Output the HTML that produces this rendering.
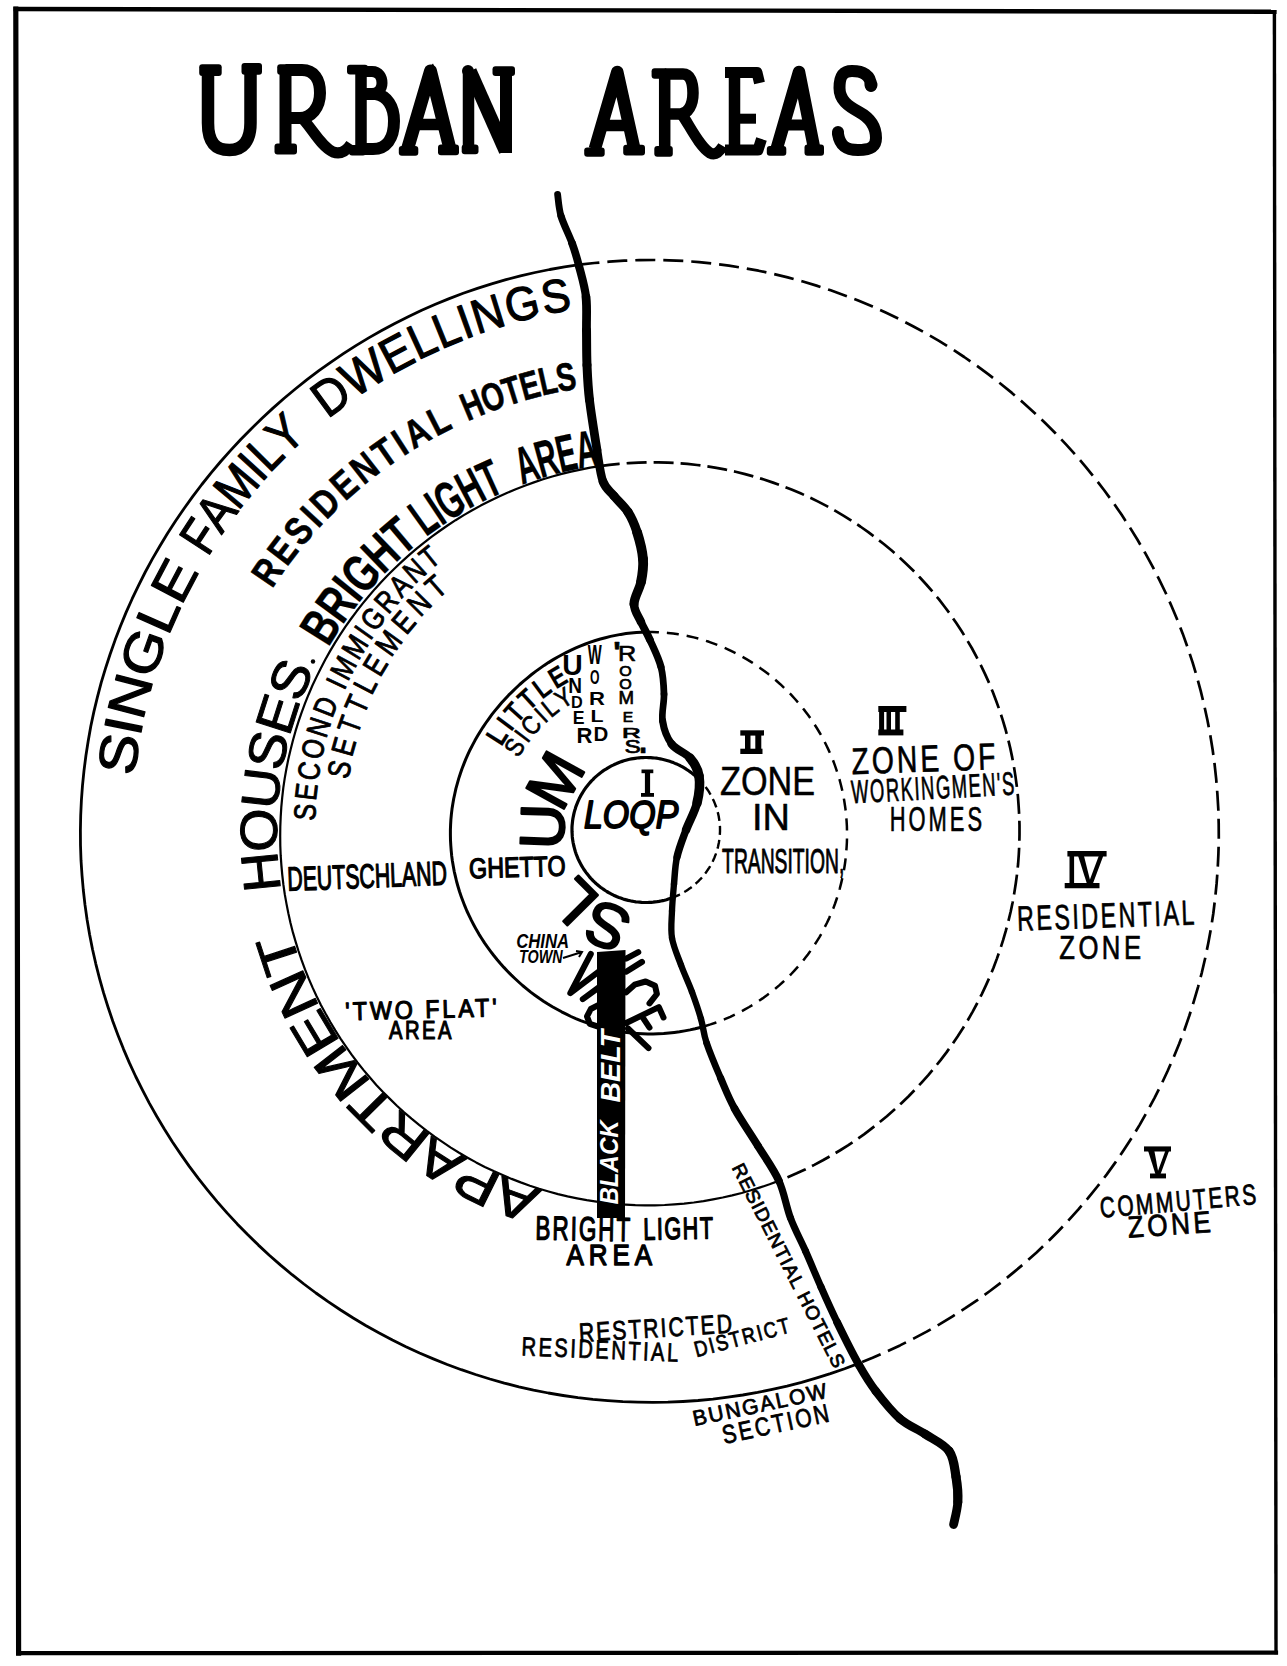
<!DOCTYPE html>
<html><head><meta charset="utf-8"><style>html,body{margin:0;padding:0;background:#fff;}svg{display:block;}</style></head>
<body><svg width="1287" height="1666" viewBox="0 0 1287 1666">
<rect x="0" y="0" width="1287" height="1666" fill="#fff"/>
<path d="M15.8 9 L1274.4 11.8" fill="none" stroke="#000" stroke-width="4.4" stroke-linecap="square"/>
<path d="M1274.4 11.8 L1276 1652.6" fill="none" stroke="#000" stroke-width="3.4" stroke-linecap="square"/>
<path d="M1276 1652.6 L18.6 1653.2" fill="none" stroke="#000" stroke-width="4.2" stroke-linecap="square"/>
<path d="M18.6 1653.2 L15.8 9" fill="none" stroke="#000" stroke-width="5.2" stroke-linecap="square"/>
<path d="M208 70 L208 123 C208 143 216 150 229.5 150 C243 150 250.5 141 250.5 123 L250.5 70" fill="none" stroke="#000" stroke-width="12.5" stroke-linecap="butt" stroke-linejoin="round"/>
<rect x="199.2" y="64.2" width="22.5" height="11.9" rx="3.0" fill="#000"/>
<rect x="241.5" y="63.0" width="20.5" height="11.8" rx="3.0" fill="#000"/>
<path d="M285.5 68 L285.5 150" fill="none" stroke="#000" stroke-width="12.0" stroke-linecap="butt" stroke-linejoin="round"/>
<path d="M285.5 70 L302 70 C314 70 320 79 320 93 C320 108 311 118 300 118 L285.5 118" fill="none" stroke="#000" stroke-width="12.0" stroke-linecap="butt" stroke-linejoin="round"/>
<path d="M300 116 C311 126 320 146 333 152 C341 155 347 150 351 144" fill="none" stroke="#000" stroke-width="11.0" stroke-linecap="butt" stroke-linejoin="round"/>
<rect x="277.2" y="64.2" width="13.8" height="10.6" rx="3.0" fill="#000"/>
<rect x="274.5" y="143.5" width="22.5" height="11.0" rx="3.0" fill="#000"/>
<path d="M361 68 L361 151" fill="none" stroke="#000" stroke-width="11.5" stroke-linecap="butt" stroke-linejoin="round"/>
<path d="M361 71.5 L372 71.5 C379 71.5 382 77 382 83 C382 89 378 93.5 372 93.5 L361 93.5" fill="none" stroke="#000" stroke-width="11.0" stroke-linecap="butt" stroke-linejoin="round"/>
<path d="M361 94 L376 94 C387 96 394 106 394 121 C394 139 386 149 373 149 L361 149" fill="none" stroke="#000" stroke-width="12.0" stroke-linecap="butt" stroke-linejoin="round"/>
<rect x="347.0" y="64.8" width="21.0" height="9.8" rx="3.0" fill="#000"/>
<rect x="349.0" y="145.0" width="17.0" height="10.5" rx="3.0" fill="#000"/>
<path d="M407.5 149 L430.5 71 L450 149" fill="none" stroke="#000" stroke-width="13.0" stroke-linecap="butt" stroke-linejoin="round"/>
<path d="M416 124.5 L445 124.5" fill="none" stroke="#000" stroke-width="11.5" stroke-linecap="butt" stroke-linejoin="round"/>
<rect x="398.8" y="146.0" width="19.5" height="9.7" rx="3.0" fill="#000"/>
<rect x="438.0" y="144.5" width="21.0" height="10.7" rx="3.0" fill="#000"/>
<path d="M424 72 L433 63.5 L437 72 Z" fill="#000"/>
<path d="M468.5 70 L468.5 150" fill="none" stroke="#000" stroke-width="11.5" stroke-linecap="butt" stroke-linejoin="round"/>
<path d="M470 71 L505.5 151" fill="none" stroke="#000" stroke-width="13.5" stroke-linecap="butt" stroke-linejoin="round"/>
<path d="M506 72 L506 153" fill="none" stroke="#000" stroke-width="12.0" stroke-linecap="butt" stroke-linejoin="round"/>
<rect x="461.7" y="144.5" width="16.8" height="9.8" rx="3.0" fill="#000"/>
<rect x="492.5" y="66.2" width="22.5" height="9.8" rx="3.0" fill="#000"/>
<circle cx="468" cy="71" r="6" fill="#000"/>
<path d="M594.8 149 L617.3 72 L634.4 149" fill="none" stroke="#000" stroke-width="12.5" stroke-linecap="butt" stroke-linejoin="round"/>
<path d="M605 125.5 L626 125.5" fill="none" stroke="#000" stroke-width="11.5" stroke-linecap="butt" stroke-linejoin="round"/>
<rect x="584.2" y="147.5" width="20.5" height="9.2" rx="3.0" fill="#000"/>
<rect x="623.2" y="144.8" width="21.8" height="10.6" rx="3.0" fill="#000"/>
<path d="M611 73 L619 66 L623 74 Z" fill="#000"/>
<path d="M664.7 70 L664.7 152" fill="none" stroke="#000" stroke-width="11.5" stroke-linecap="butt" stroke-linejoin="round"/>
<path d="M664.7 74 L683 74 C690 74 693 82 693 93 C693 105 688 114 680 114 L664.7 114" fill="none" stroke="#000" stroke-width="11.5" stroke-linecap="butt" stroke-linejoin="round"/>
<path d="M681 113 C690 126 699 146 710 153 C716 156 720 151 723 146" fill="none" stroke="#000" stroke-width="11.0" stroke-linecap="butt" stroke-linejoin="round"/>
<rect x="651.6" y="68.2" width="15.9" height="10.6" rx="3.0" fill="#000"/>
<rect x="654.3" y="146.1" width="18.5" height="10.6" rx="3.0" fill="#000"/>
<path d="M734.5 70 L734.5 151" fill="none" stroke="#000" stroke-width="11.5" stroke-linecap="butt" stroke-linejoin="round"/>
<path d="M725 72.5 L757 72.5 L759.5 83" fill="none" stroke="#000" stroke-width="11.0" stroke-linecap="butt" stroke-linejoin="round"/>
<path d="M734.5 118.7 L756 118.7" fill="none" stroke="#000" stroke-width="10.0" stroke-linecap="butt" stroke-linejoin="round"/>
<path d="M725 150 L758 150 L761.5 139" fill="none" stroke="#000" stroke-width="11.0" stroke-linecap="butt" stroke-linejoin="round"/>
<path d="M776.6 149 L799 72 L814.3 149" fill="none" stroke="#000" stroke-width="12.5" stroke-linecap="butt" stroke-linejoin="round"/>
<path d="M788 125 L808 125" fill="none" stroke="#000" stroke-width="11.0" stroke-linecap="butt" stroke-linejoin="round"/>
<rect x="766.8" y="146.0" width="19.5" height="9.7" rx="3.0" fill="#000"/>
<rect x="804.5" y="144.5" width="19.5" height="11.2" rx="3.0" fill="#000"/>
<path d="M792 74 L801 66 L804 75 Z" fill="#000"/>
<path d="M871 86 C871 75 863 71 852 71 C841 71 839.5 79 839.5 88 C839.5 100 848 106 859 112 C872 119 876 128 876 138 C876 148 869 150 858 150 C846 150 840 146 838 134" fill="none" stroke="#000" stroke-width="12.0" stroke-linecap="round" stroke-linejoin="round"/>
<circle cx="871" cy="85" r="6.5" fill="#000"/>
<circle cx="838" cy="132" r="6" fill="#000"/>
<path d="M858.7 1363.4 L844.6 1368.7 L830.4 1373.6 L816.0 1378.1 L801.6 1382.3 L787.0 1386.1 L772.3 1389.4 L757.6 1392.4 L742.8 1395.0 L727.9 1397.2 L712.9 1399.1 L698.0 1400.5 L683.0 1401.5 L667.9 1402.2 L652.9 1402.4 L637.9 1402.2 L622.8 1401.7 L607.8 1400.7 L592.9 1399.4 L577.9 1397.7 L563.1 1395.5 L548.3 1393.0 L533.5 1390.1 L518.9 1386.8 L504.3 1383.1 L489.9 1379.0 L475.5 1374.5 L461.3 1369.7 L447.2 1364.5 L433.3 1358.9 L419.5 1353.0 L405.9 1346.7 L392.4 1340.0 L379.2 1333.0 L366.1 1325.7 L353.2 1318.0 L340.6 1310.0 L328.1 1301.6 L315.9 1293.0 L303.9 1284.0 L292.1 1274.7 L280.6 1265.1 L269.3 1255.2 L258.4 1245.1 L247.6 1234.6 L237.2 1223.9 L227.0 1212.9 L217.1 1201.6 L207.6 1190.1 L198.3 1178.4 L189.3 1166.4 L180.7 1154.1 L172.3 1141.7 L164.3 1129.0 L156.7 1116.2 L149.3 1103.1 L142.4 1089.9 L135.7 1076.5 L129.4 1062.9 L123.5 1049.1 L118.0 1035.2 L112.8 1021.2 L108.0 1007.0 L103.5 992.7 L99.5 978.3 L95.8 963.8 L92.5 949.2 L89.6 934.5 L87.1 919.7 L85.0 904.9 L83.3 890.0 L82.0 875.1 L81.0 860.2 L80.5 845.2 L80.4 830.3 L80.7 815.3 L81.4 800.4 L82.5 785.4 L84.0 770.6 L85.9 755.7 L88.2 741.0 L90.8 726.3 L93.9 711.6 L97.4 697.1 L101.2 682.7 L105.5 668.4 L110.1 654.2 L115.1 640.1 L120.4 626.2 L126.1 612.4 L132.2 598.7 L138.6 585.3 L145.3 572.0 L152.4 558.9 L159.9 546.0 L167.6 533.3 L175.7 520.8 L184.1 508.5 L192.8 496.4 L201.8 484.5 L211.1 472.9 L220.7 461.5 L230.6 450.4 L240.7 439.5 L251.1 428.9 L261.8 418.5 L272.7 408.4 L283.9 398.5 L295.3 389.0 L307.0 379.7 L318.9 370.7 L331.0 362.1 L343.4 353.7 L355.9 345.6 L368.7 337.9 L381.7 330.5 L394.8 323.4 L408.2 316.7 L421.7 310.3 L435.4 304.3 L449.2 298.6 L463.2 293.3 L477.4 288.4 L491.6 283.8 L506.0 279.7 L520.5 275.9 L535.1 272.5 L549.8 269.5 L564.6 266.9 L579.5 264.7" fill="none" stroke="#000" stroke-width="2.8" stroke-linecap="butt" stroke-linejoin="round"/>
<path d="M579.5 264.7 L594.4 263.0 L609.3 261.6 L624.2 260.7 L639.2 260.1 L654.2 260.0 L669.2 260.3 L684.2 261.0 L699.1 262.1 L714.0 263.7 L728.9 265.6 L743.7 268.0 L758.5 270.7 L773.1 273.8 L787.7 277.4 L802.1 281.3 L816.5 285.6 L830.7 290.3 L844.8 295.4 L858.8 300.8 L872.6 306.6 L886.2 312.8 L899.7 319.3 L913.0 326.2 L926.1 333.4 L939.0 340.9 L951.7 348.8 L964.2 357.0 L976.5 365.5 L988.5 374.4 L1000.3 383.5 L1011.9 392.9 L1023.3 402.7 L1034.3 412.7 L1045.2 423.0 L1055.7 433.5 L1066.0 444.4 L1076.0 455.4 L1085.7 466.8 L1095.1 478.4 L1104.2 490.2 L1113.0 502.3 L1121.5 514.6 L1129.7 527.1 L1137.5 539.8 L1145.0 552.7 L1152.2 565.8 L1159.0 579.1 L1165.5 592.5 L1171.6 606.2 L1177.4 620.0 L1182.8 633.9 L1187.8 648.0 L1192.5 662.1 L1196.8 676.5 L1200.7 690.9 L1204.2 705.4 L1207.4 720.0 L1210.2 734.7 L1212.6 749.5 L1214.6 764.3 L1216.2 779.2 L1217.4 794.1 L1218.3 809.0 L1218.7 823.9 L1218.8 838.9 L1218.4 853.9 L1217.7 868.8 L1216.6 883.7 L1215.1 898.6 L1213.3 913.5 L1211.0 928.3 L1208.3 943.0 L1205.3 957.7 L1201.9 972.3 L1198.1 986.8 L1193.9 1001.2 L1189.4 1015.5 L1184.5 1029.7 L1179.2 1043.7 L1173.5 1057.6 L1167.5 1071.3 L1161.1 1084.9 L1154.3 1098.3 L1147.2 1111.5 L1139.8 1124.6 L1132.0 1137.4 L1123.8 1150.0 L1115.4 1162.4 L1106.6 1174.6 L1097.4 1186.5 L1088.0 1198.2 L1078.2 1209.7 L1068.2 1220.8 L1057.8 1231.7 L1047.2 1242.4 L1036.3 1252.7 L1025.1 1262.7 L1013.6 1272.4 L1001.9 1281.9 L989.9 1291.0 L977.7 1299.8 L965.3 1308.2 L952.6 1316.3 L939.8 1324.1 L926.7 1331.6 L913.5 1338.6 L900.0 1345.4 L886.4 1351.7 L872.6 1357.8 L858.7 1363.4" fill="none" stroke="#000" stroke-width="2.7" stroke-linecap="butt" stroke-linejoin="round" stroke-dasharray="20 8" stroke-dashoffset="0"/>
<path d="M778.7 1180.9 L769.6 1184.3 L760.3 1187.4 L751.0 1190.3 L741.7 1193.0 L732.2 1195.4 L722.7 1197.5 L713.1 1199.4 L703.5 1201.1 L693.8 1202.5 L684.1 1203.6 L674.4 1204.4 L664.6 1205.0 L654.9 1205.3 L645.1 1205.4 L635.3 1205.2 L625.6 1204.7 L615.8 1204.0 L606.1 1203.0 L596.4 1201.7 L586.7 1200.2 L577.1 1198.4 L567.5 1196.4 L558.0 1194.1 L548.6 1191.5 L539.2 1188.8 L529.9 1185.7 L520.7 1182.4 L511.6 1178.9 L502.6 1175.1 L493.6 1171.1 L484.8 1166.9 L476.1 1162.4 L467.6 1157.7 L459.1 1152.8 L450.8 1147.6 L442.7 1142.2 L434.6 1136.7 L426.8 1130.9 L419.1 1124.9 L411.5 1118.7 L404.1 1112.3 L396.9 1105.7 L389.9 1098.9 L383.0 1092.0 L376.3 1084.9 L369.9 1077.6 L363.6 1070.1 L357.5 1062.5 L351.6 1054.7 L346.0 1046.7 L340.5 1038.6 L335.3 1030.4 L330.3 1022.0 L325.5 1013.5 L320.9 1004.9 L316.6 996.2 L312.5 987.4 L308.6 978.4 L305.0 969.4 L301.6 960.2 L298.5 951.0 L295.6 941.7 L292.9 932.4 L290.5 923.0 L288.4 913.5 L286.5 903.9 L284.8 894.4 L283.4 884.7 L282.3 875.1 L281.4 865.4 L280.7 855.7 L280.3 846.0 L280.2 836.3 L280.3 826.6 L280.7 816.9 L281.3 807.2 L282.2 797.6 L283.3 787.9 L284.7 778.4 L286.4 768.8 L288.3 759.3 L290.5 749.9 L292.9 740.5 L295.5 731.2 L298.4 721.9 L301.5 712.8 L304.9 703.7 L308.5 694.7 L312.3 685.8 L316.4 677.1 L320.7 668.4 L325.2 659.8 L329.9 651.4 L334.8 643.1 L340.0 634.9 L345.3 626.9 L350.9 619.0 L356.6 611.3 L362.6 603.6 L368.7 596.2 L375.0 588.9 L381.5 581.8 L388.2 574.8 L395.1 568.0 L402.1 561.4 L409.3 554.9 L416.6 548.7 L424.1 542.6 L431.8 536.7 L439.6 531.0 L447.5 525.5 L455.6 520.2 L463.8 515.1 L472.2 510.3 L480.7 505.6 L489.2 501.2 L498.0 496.9 L506.8 493.0 L515.7 489.2 L524.7 485.7 L533.9 482.4 L543.1 479.3 L552.3 476.5 L561.7 473.9 L571.1 471.6 L580.6 469.6 L590.2 467.7 L599.8 466.2" fill="none" stroke="#000" stroke-width="2.2" stroke-linecap="butt" stroke-linejoin="round"/>
<path d="M599.8 466.2 L609.4 464.9 L619.1 463.8 L628.8 463.1 L638.6 462.6 L648.4 462.3 L658.1 462.3 L667.9 462.6 L677.6 463.1 L687.4 463.9 L697.1 465.0 L706.8 466.3 L716.4 467.9 L726.0 469.7 L735.6 471.8 L745.1 474.1 L754.5 476.7 L763.9 479.5 L773.1 482.6 L782.3 485.9 L791.5 489.5 L800.5 493.3 L809.4 497.3 L818.2 501.6 L826.9 506.1 L835.4 510.9 L843.8 515.9 L852.1 521.1 L860.3 526.5 L868.3 532.1 L876.1 538.0 L883.8 544.0 L891.4 550.3 L898.7 556.7 L905.9 563.4 L912.9 570.2 L919.7 577.3 L926.3 584.5 L932.7 591.9 L939.0 599.4 L945.0 607.2 L950.8 615.0 L956.3 623.1 L961.7 631.3 L966.8 639.6 L971.8 648.0 L976.4 656.6 L980.9 665.3 L985.1 674.1 L989.1 683.0 L992.8 692.0 L996.3 701.2 L999.6 710.4 L1002.6 719.6 L1005.4 729.0 L1007.9 738.4 L1010.2 747.9 L1012.2 757.4 L1014.0 767.0 L1015.5 776.6 L1016.8 786.3 L1017.9 796.0 L1018.6 805.7 L1019.2 815.4 L1019.5 825.1 L1019.5 834.8 L1019.3 844.6 L1018.8 854.3 L1018.1 864.0 L1017.1 873.7 L1015.8 883.3 L1014.3 892.9 L1012.6 902.5 L1010.6 912.0 L1008.3 921.5 L1005.8 930.9 L1003.1 940.2 L1000.1 949.4 L996.9 958.6 L993.5 967.7 L989.8 976.7 L985.8 985.6 L981.7 994.3 L977.3 1003.0 L972.7 1011.6 L967.9 1020.0 L962.9 1028.3 L957.6 1036.5 L952.1 1044.5 L946.5 1052.4 L940.6 1060.1 L934.5 1067.7 L928.3 1075.2 L921.8 1082.4 L915.2 1089.5 L908.4 1096.5 L901.4 1103.2 L894.2 1109.8 L886.9 1116.2 L879.4 1122.4 L871.8 1128.4 L864.0 1134.3 L856.1 1139.9 L848.0 1145.3 L839.8 1150.5 L831.4 1155.5 L822.9 1160.3 L814.3 1164.9 L805.6 1169.2 L796.7 1173.3 L787.7 1177.2 L778.7 1180.9" fill="none" stroke="#000" stroke-width="2.7" stroke-linecap="butt" stroke-linejoin="round" stroke-dasharray="20 7" stroke-dashoffset="0"/>
<path d="M700.3 1027.5 L695.1 1028.8 L690.0 1029.9 L684.7 1030.9 L679.5 1031.8 L674.3 1032.5 L669.0 1033.1 L663.7 1033.6 L658.4 1033.8 L653.1 1034.0 L647.8 1034.0 L642.5 1033.8 L637.2 1033.5 L631.9 1033.1 L626.6 1032.5 L621.4 1031.7 L616.2 1030.8 L611.0 1029.8 L605.8 1028.6 L600.7 1027.3 L595.6 1025.8 L590.6 1024.2 L585.6 1022.4 L580.7 1020.6 L575.8 1018.6 L571.0 1016.5 L566.3 1014.2 L561.6 1011.8 L557.0 1009.3 L552.4 1006.7 L547.9 1004.0 L543.5 1001.2 L539.2 998.3 L534.9 995.2 L530.7 992.1 L526.7 988.8 L522.6 985.5 L518.7 982.0 L514.9 978.5 L511.1 974.9 L507.5 971.2 L503.9 967.4 L500.4 963.5 L497.0 959.5 L493.8 955.5 L490.6 951.3 L487.5 947.1 L484.5 942.9 L481.7 938.5 L478.9 934.1 L476.3 929.6 L473.8 925.0 L471.4 920.4 L469.1 915.7 L466.9 911.0 L464.9 906.2 L463.0 901.3 L461.2 896.4 L459.5 891.5 L458.0 886.5 L456.6 881.5 L455.4 876.4 L454.2 871.3 L453.3 866.2 L452.4 861.0 L451.7 855.9 L451.2 850.7 L450.8 845.5 L450.5 840.3 L450.4 835.0 L450.4 829.8 L450.6 824.6 L450.9 819.4 L451.4 814.2 L452.0 809.1 L452.8 803.9 L453.7 798.8 L454.8 793.7 L455.9 788.6 L457.3 783.6 L458.7 778.6 L460.3 773.7 L462.0 768.8 L463.9 763.9 L465.8 759.1 L467.9 754.4 L470.1 749.7 L472.5 745.1 L474.9 740.6 L477.5 736.1 L480.1 731.7 L482.9 727.3 L485.8 723.0 L488.8 718.8 L491.8 714.7 L495.0 710.6 L498.3 706.7 L501.6 702.8 L505.1 699.0 L508.6 695.2 L512.3 691.6 L516.0 688.0 L519.7 684.5 L523.6 681.1 L527.6 677.8 L531.6 674.5 L535.7 671.4 L539.9 668.4 L544.1 665.4 L548.4 662.6 L552.8 659.9 L557.3 657.2 L561.9 654.7 L566.5 652.3 L571.1 650.1 L575.9 647.9 L580.7 645.9 L585.5 644.0 L590.4 642.2 L595.4 640.5 L600.4 639.0 L605.4 637.7 L610.5 636.4 L615.6 635.4 L620.8 634.4 L626.0 633.6 L631.2 633.0 L636.4 632.5 L641.7 632.2 L646.9 632.0" fill="none" stroke="#000" stroke-width="3.0" stroke-linecap="butt" stroke-linejoin="round"/>
<path d="M646.9 632.0 L652.2 632.0 L657.4 632.2 L662.7 632.5 L667.9 632.9 L673.2 633.5 L678.4 634.3 L683.6 635.2 L688.7 636.2 L693.8 637.4 L698.9 638.7 L704.0 640.2 L709.0 641.8 L713.9 643.6 L718.8 645.5 L723.6 647.5 L728.4 649.6 L733.1 651.9 L737.8 654.2 L742.4 656.8 L746.9 659.4 L751.4 662.1 L755.7 665.0 L760.0 667.9 L764.3 671.0 L768.4 674.1 L772.5 677.4 L776.4 680.8 L780.3 684.2 L784.1 687.8 L787.9 691.4 L791.5 695.1 L795.0 699.0 L798.5 702.9 L801.8 706.9 L805.0 710.9 L808.1 715.1 L811.1 719.3 L814.0 723.6 L816.8 728.0 L819.5 732.5 L822.1 737.0 L824.5 741.6 L826.8 746.2 L829.0 750.9 L831.1 755.7 L833.1 760.5 L834.9 765.4 L836.6 770.3 L838.2 775.2 L839.7 780.2 L841.0 785.3 L842.2 790.3 L843.3 795.4 L844.2 800.5 L845.0 805.7 L845.7 810.8 L846.2 816.0 L846.6 821.2 L846.9 826.4 L847.0 831.6 L847.0 836.8 L846.9 842.0 L846.6 847.3 L846.2 852.5 L845.7 857.7 L845.1 862.8 L844.3 868.0 L843.4 873.2 L842.3 878.3 L841.1 883.4 L839.8 888.5 L838.4 893.5 L836.8 898.5 L835.1 903.5 L833.3 908.4 L831.3 913.2 L829.2 918.1 L827.0 922.8 L824.6 927.5 L822.2 932.2 L819.6 936.8 L816.8 941.3 L814.0 945.7 L811.0 950.1 L807.9 954.4 L804.7 958.6 L801.4 962.7 L798.0 966.7 L794.4 970.6 L790.8 974.5 L787.0 978.2 L783.2 981.8 L779.2 985.4 L775.2 988.8 L771.1 992.1 L766.9 995.3 L762.6 998.4 L758.2 1001.4 L753.7 1004.3 L749.2 1007.0 L744.5 1009.6 L739.9 1012.2 L735.1 1014.5 L730.3 1016.8 L725.4 1018.9 L720.5 1020.9 L715.5 1022.7 L710.5 1024.4 L705.4 1026.0 L700.3 1027.5" fill="none" stroke="#000" stroke-width="2.5" stroke-linecap="butt" stroke-linejoin="round" stroke-dasharray="12 8" stroke-dashoffset="0"/>
<path d="M673.8 897.2 L672.0 897.9 L670.2 898.5 L668.4 899.1 L666.5 899.7 L664.6 900.2 L662.8 900.6 L660.9 901.0 L659.0 901.4 L657.0 901.7 L655.1 901.9 L653.2 902.2 L651.3 902.3 L649.3 902.4 L647.4 902.5 L645.4 902.5 L643.5 902.5 L641.6 902.4 L639.6 902.2 L637.7 902.0 L635.8 901.8 L633.9 901.5 L632.0 901.2 L630.1 900.8 L628.2 900.4 L626.3 899.9 L624.4 899.4 L622.6 898.8 L620.7 898.1 L618.9 897.5 L617.1 896.8 L615.4 896.0 L613.6 895.2 L611.9 894.3 L610.2 893.4 L608.5 892.5 L606.8 891.5 L605.2 890.5 L603.6 889.4 L602.0 888.3 L600.5 887.2 L599.0 886.0 L597.5 884.7 L596.0 883.5 L594.6 882.2 L593.2 880.8 L591.9 879.5 L590.6 878.1 L589.3 876.6 L588.1 875.1 L586.9 873.6 L585.8 872.1 L584.7 870.5 L583.6 869.0 L582.6 867.3 L581.6 865.7 L580.7 864.0 L579.8 862.3 L578.9 860.6 L578.1 858.9 L577.4 857.1 L576.7 855.4 L576.0 853.6 L575.4 851.8 L574.9 850.0 L574.4 848.1 L573.9 846.3 L573.5 844.4 L573.1 842.6 L572.8 840.7 L572.5 838.8 L572.3 836.9 L572.2 835.0 L572.1 833.1 L572.0 831.2 L572.0 829.3 L572.0 827.4 L572.1 825.5 L572.3 823.6 L572.5 821.7 L572.7 819.9 L573.0 818.0 L573.4 816.1 L573.8 814.2 L574.2 812.4 L574.7 810.6 L575.3 808.7 L575.8 806.9 L576.5 805.1 L577.2 803.4 L577.9 801.6 L578.7 799.9 L579.5 798.1 L580.4 796.4 L581.3 794.8 L582.3 793.1 L583.3 791.5 L584.3 789.9 L585.4 788.3 L586.6 786.8 L587.8 785.3 L589.0 783.8 L590.2 782.4 L591.5 780.9 L592.9 779.6 L594.2 778.2 L595.6 776.9 L597.1 775.6 L598.5 774.4 L600.0 773.2 L601.6 772.0 L603.1 770.9 L604.7 769.8 L606.4 768.8 L608.0 767.8 L609.7 766.8 L611.4 765.9 L613.1 765.1 L614.9 764.2 L616.6 763.5 L618.4 762.7 L620.2 762.0 L622.1 761.4 L623.9 760.8 L625.8 760.3 L627.6 759.8 L629.5 759.3 L631.4 758.9 L633.3 758.6 L635.2 758.3 L637.2 758.0 L639.1 757.8 L641.0 757.7 L643.0 757.6 L644.9 757.5 L646.8 757.5 L648.8 757.6 L650.7 757.6 L652.6 757.8 L654.6 758.0 L656.5 758.2 L658.4 758.5 L660.3 758.9 L662.2 759.3 L664.1 759.7 L666.0 760.2 L667.8 760.7 L669.7 761.3 L671.5 761.9 L673.3 762.6 L675.1 763.4 L676.9 764.1 L678.6 764.9 L680.4 765.8 L682.1 766.7 L683.8 767.7 L685.4 768.6 L687.0 769.7 L688.6 770.8 L690.2 771.9 L691.8 773.0 L693.3 774.2 L694.7 775.4 L696.2 776.7" fill="none" stroke="#000" stroke-width="3.2" stroke-linecap="butt" stroke-linejoin="round"/>
<path d="M696.2 776.7 L697.6 778.0 L699.0 779.4 L700.3 780.8 L701.6 782.2 L702.9 783.7 L704.1 785.2 L705.3 786.7 L706.5 788.2 L707.6 789.8 L708.7 791.4 L709.7 793.1 L710.7 794.7 L711.6 796.4 L712.5 798.1 L713.3 799.9 L714.1 801.6 L714.8 803.4 L715.5 805.2 L716.2 807.0 L716.8 808.8 L717.3 810.7 L717.8 812.5 L718.3 814.4 L718.7 816.3 L719.0 818.2 L719.3 820.0 L719.5 822.0 L719.7 823.9 L719.9 825.8 L720.0 827.7 L720.0 829.6 L720.0 831.5 L719.9 833.4 L719.8 835.4 L719.6 837.3 L719.4 839.2 L719.1 841.1 L718.8 843.0 L718.4 844.8 L718.0 846.7 L717.5 848.6 L717.0 850.4 L716.4 852.3 L715.8 854.1 L715.1 855.9 L714.4 857.7 L713.6 859.4 L712.8 861.2 L711.9 862.9 L711.0 864.6 L710.1 866.3 L709.1 867.9 L708.0 869.5 L706.9 871.1 L705.8 872.7 L704.6 874.2 L703.4 875.7 L702.2 877.2 L700.9 878.6 L699.5 880.0 L698.2 881.4 L696.8 882.7 L695.3 884.0 L693.9 885.3 L692.3 886.5 L690.8 887.7 L689.2 888.8 L687.6 889.9 L686.0 891.0 L684.3 892.0 L682.6 893.0 L680.9 893.9 L679.2 894.8 L677.4 895.6 L675.6 896.4 L673.8 897.2" fill="none" stroke="#000" stroke-width="2.4" stroke-linecap="butt" stroke-linejoin="round" stroke-dasharray="9 5" stroke-dashoffset="0"/>
<path d="M557.6 194.4 C558.2 198.0 558.6 207.9 561.0 216.0" fill="none" stroke="#000" stroke-width="6.8" stroke-linecap="round"/>
<path d="M561.0 216.0 C563.4 224.1 569.0 234.7 572.0 243.0" fill="none" stroke="#000" stroke-width="7.3" stroke-linecap="round"/>
<path d="M572.0 243.0 C575.0 251.3 576.7 257.0 579.0 266.0" fill="none" stroke="#000" stroke-width="7.8" stroke-linecap="round"/>
<path d="M579.0 266.0 C581.3 275.0 584.8 286.3 586.0 297.0" fill="none" stroke="#000" stroke-width="8.2" stroke-linecap="round"/>
<path d="M586.0 297.0 C587.2 307.7 586.3 318.7 586.5 330.0" fill="none" stroke="#000" stroke-width="8.8" stroke-linecap="round"/>
<path d="M586.5 330.0 C586.7 341.3 586.5 353.3 587.0 365.0" fill="none" stroke="#000" stroke-width="9.0" stroke-linecap="round"/>
<path d="M587.0 365.0 C587.5 376.7 587.8 385.8 589.5 400.0" fill="none" stroke="#000" stroke-width="9.0" stroke-linecap="round"/>
<path d="M589.5 400.0 C591.2 414.2 594.8 436.4 597.0 450.0" fill="none" stroke="#000" stroke-width="8.8" stroke-linecap="round"/>
<path d="M597.0 450.0 C599.2 463.6 600.2 473.9 603.0 481.6" fill="none" stroke="#000" stroke-width="8.5" stroke-linecap="round"/>
<path d="M603.0 481.6 C605.8 489.3 609.8 490.9 614.0 496.0" fill="none" stroke="#000" stroke-width="8.8" stroke-linecap="round"/>
<path d="M614.0 496.0 C618.2 501.1 624.2 506.0 628.0 512.0" fill="none" stroke="#000" stroke-width="9.0" stroke-linecap="round"/>
<path d="M628.0 512.0 C631.8 518.0 634.5 524.2 637.0 532.0" fill="none" stroke="#000" stroke-width="9.2" stroke-linecap="round"/>
<path d="M637.0 532.0 C639.5 539.8 642.3 550.7 643.0 559.0" fill="none" stroke="#000" stroke-width="9.8" stroke-linecap="round"/>
<path d="M643.0 559.0 C643.7 567.3 642.5 574.5 641.0 582.0" fill="none" stroke="#000" stroke-width="9.8" stroke-linecap="round"/>
<path d="M641.0 582.0 C639.5 589.5 634.0 597.3 634.0 604.0" fill="none" stroke="#000" stroke-width="9.2" stroke-linecap="round"/>
<path d="M634.0 604.0 C634.0 610.7 638.3 616.0 641.0 622.0" fill="none" stroke="#000" stroke-width="8.5" stroke-linecap="round"/>
<path d="M641.0 622.0 C643.7 628.0 646.7 632.5 650.0 640.0" fill="none" stroke="#000" stroke-width="7.8" stroke-linecap="round"/>
<path d="M650.0 640.0 C653.3 647.5 658.7 658.0 661.0 667.0" fill="none" stroke="#000" stroke-width="7.2" stroke-linecap="round"/>
<path d="M661.0 667.0 C663.3 676.0 663.7 685.0 664.0 694.0" fill="none" stroke="#000" stroke-width="6.8" stroke-linecap="round"/>
<path d="M664.0 694.0 C664.3 703.0 661.3 712.7 662.6 721.0" fill="none" stroke="#000" stroke-width="6.7" stroke-linecap="round"/>
<path d="M662.6 721.0 C663.9 729.3 667.0 737.8 671.6 744.0" fill="none" stroke="#000" stroke-width="7.2" stroke-linecap="round"/>
<path d="M671.6 744.0 C676.2 750.2 685.4 752.7 690.0 758.0" fill="none" stroke="#000" stroke-width="8.2" stroke-linecap="round"/>
<path d="M690.0 758.0 C694.6 763.3 697.8 768.5 699.0 776.0" fill="none" stroke="#000" stroke-width="9.5" stroke-linecap="round"/>
<path d="M699.0 776.0 C700.2 783.5 699.2 794.0 697.0 803.0" fill="none" stroke="#000" stroke-width="9.5" stroke-linecap="round"/>
<path d="M697.0 803.0 C694.8 812.0 689.3 821.0 686.0 830.0" fill="none" stroke="#000" stroke-width="8.5" stroke-linecap="round"/>
<path d="M686.0 830.0 C682.7 839.0 679.0 848.0 677.0 857.0" fill="none" stroke="#000" stroke-width="7.4" stroke-linecap="round"/>
<path d="M677.0 857.0 C675.0 866.0 674.8 875.0 674.0 884.0" fill="none" stroke="#000" stroke-width="6.5" stroke-linecap="round"/>
<path d="M674.0 884.0 C673.2 893.0 672.3 902.0 672.0 911.0" fill="none" stroke="#000" stroke-width="6.3" stroke-linecap="round"/>
<path d="M672.0 911.0 C671.7 920.0 670.5 929.0 672.0 938.0" fill="none" stroke="#000" stroke-width="6.3" stroke-linecap="round"/>
<path d="M672.0 938.0 C673.5 947.0 677.7 956.0 681.0 965.0" fill="none" stroke="#000" stroke-width="6.3" stroke-linecap="round"/>
<path d="M681.0 965.0 C684.3 974.0 688.7 983.0 692.0 992.0" fill="none" stroke="#000" stroke-width="6.3" stroke-linecap="round"/>
<path d="M692.0 992.0 C695.3 1001.0 698.6 1010.5 701.0 1019.0" fill="none" stroke="#000" stroke-width="6.3" stroke-linecap="round"/>
<path d="M701.0 1019.0 C703.4 1027.5 703.3 1033.2 706.6 1043.0" fill="none" stroke="#000" stroke-width="6.4" stroke-linecap="round"/>
<path d="M706.6 1043.0 C709.9 1052.8 715.9 1067.1 720.6 1078.0" fill="none" stroke="#000" stroke-width="6.8" stroke-linecap="round"/>
<path d="M720.6 1078.0 C725.3 1088.9 728.4 1097.3 734.6 1108.6" fill="none" stroke="#000" stroke-width="7.2" stroke-linecap="round"/>
<path d="M734.6 1108.6 C740.8 1119.9 750.6 1133.9 758.0 1146.0" fill="none" stroke="#000" stroke-width="7.8" stroke-linecap="round"/>
<path d="M758.0 1146.0 C765.4 1158.1 773.6 1169.0 779.0 1181.0" fill="none" stroke="#000" stroke-width="7.8" stroke-linecap="round"/>
<path d="M779.0 1181.0 C784.4 1193.0 786.1 1206.3 790.5 1218.0" fill="none" stroke="#000" stroke-width="7.2" stroke-linecap="round"/>
<path d="M790.5 1218.0 C794.9 1229.7 800.4 1239.5 805.5 1251.0" fill="none" stroke="#000" stroke-width="7.0" stroke-linecap="round"/>
<path d="M805.5 1251.0 C810.6 1262.5 815.8 1275.2 821.0 1287.0" fill="none" stroke="#000" stroke-width="7.0" stroke-linecap="round"/>
<path d="M821.0 1287.0 C826.2 1298.8 830.7 1309.0 837.0 1322.0" fill="none" stroke="#000" stroke-width="7.2" stroke-linecap="round"/>
<path d="M837.0 1322.0 C843.3 1335.0 852.5 1353.5 859.0 1365.0" fill="none" stroke="#000" stroke-width="7.8" stroke-linecap="round"/>
<path d="M859.0 1365.0 C865.5 1376.5 868.9 1382.1 875.7 1391.0" fill="none" stroke="#000" stroke-width="8.2" stroke-linecap="round"/>
<path d="M875.7 1391.0 C882.5 1399.9 891.5 1411.3 899.7 1418.5" fill="none" stroke="#000" stroke-width="8.5" stroke-linecap="round"/>
<path d="M899.7 1418.5 C907.9 1425.7 916.8 1428.6 925.0 1434.0" fill="none" stroke="#000" stroke-width="8.5" stroke-linecap="round"/>
<path d="M925.0 1434.0 C933.2 1439.4 943.8 1443.9 949.0 1451.0" fill="none" stroke="#000" stroke-width="8.8" stroke-linecap="round"/>
<path d="M949.0 1451.0 C954.2 1458.1 954.5 1468.2 956.0 1476.7" fill="none" stroke="#000" stroke-width="9.2" stroke-linecap="round"/>
<path d="M956.0 1476.7 C957.5 1485.2 958.2 1494.0 957.8 1502.0" fill="none" stroke="#000" stroke-width="9.2" stroke-linecap="round"/>
<path d="M957.8 1502.0 C957.4 1510.0 954.3 1520.8 953.6 1524.5" fill="none" stroke="#000" stroke-width="8.8" stroke-linecap="round"/>
<path d="M597 952 L625.5 950 L625 1218 L597 1218 Z" fill="#000"/>
<text transform="translate(137.2 756.5) rotate(278.28) scale(1.132 1)" font-family="Liberation Sans" font-weight="normal" font-style="normal" font-size="53.7" text-anchor="middle" fill="#000" stroke="#000" stroke-width="1.20" stroke-linejoin="round">S</text>
<text transform="translate(141.7 729.2) rotate(281.35) scale(1.132 1)" font-family="Liberation Sans" font-weight="normal" font-style="normal" font-size="53.5" text-anchor="middle" fill="#000" stroke="#000" stroke-width="1.20" stroke-linejoin="round">I</text>
<text transform="translate(148.0 700.5) rotate(284.60) scale(1.132 1)" font-family="Liberation Sans" font-weight="normal" font-style="normal" font-size="53.3" text-anchor="middle" fill="#000" stroke="#000" stroke-width="1.20" stroke-linejoin="round">N</text>
<text transform="translate(160.5 658.2) rotate(289.48) scale(1.132 1)" font-family="Liberation Sans" font-weight="normal" font-style="normal" font-size="53.0" text-anchor="middle" fill="#000" stroke="#000" stroke-width="1.20" stroke-linejoin="round">G</text>
<text transform="translate(174.7 621.6) rotate(293.82) scale(1.132 1)" font-family="Liberation Sans" font-weight="normal" font-style="normal" font-size="52.7" text-anchor="middle" fill="#000" stroke="#000" stroke-width="1.20" stroke-linejoin="round">L</text>
<text transform="translate(190.1 589.0) rotate(297.80) scale(1.132 1)" font-family="Liberation Sans" font-weight="normal" font-style="normal" font-size="52.4" text-anchor="middle" fill="#000" stroke="#000" stroke-width="1.20" stroke-linejoin="round">E</text>
<text transform="translate(215.0 546.1) rotate(303.28) scale(0.859 1)" font-family="Liberation Sans" font-weight="normal" font-style="normal" font-size="52.2" text-anchor="middle" fill="#000" stroke="#000" stroke-width="1.20" stroke-linejoin="round">F</text>
<text transform="translate(230.3 523.0) rotate(306.34) scale(0.859 1)" font-family="Liberation Sans" font-weight="normal" font-style="normal" font-size="52.0" text-anchor="middle" fill="#000" stroke="#000" stroke-width="1.20" stroke-linejoin="round">A</text>
<text transform="translate(249.9 497.0) rotate(309.93) scale(0.859 1)" font-family="Liberation Sans" font-weight="normal" font-style="normal" font-size="51.7" text-anchor="middle" fill="#000" stroke="#000" stroke-width="1.20" stroke-linejoin="round">M</text>
<text transform="translate(265.5 478.5) rotate(312.59) scale(0.859 1)" font-family="Liberation Sans" font-weight="normal" font-style="normal" font-size="51.4" text-anchor="middle" fill="#000" stroke="#000" stroke-width="1.20" stroke-linejoin="round">I</text>
<text transform="translate(277.8 465.1) rotate(314.58) scale(0.859 1)" font-family="Liberation Sans" font-weight="normal" font-style="normal" font-size="51.3" text-anchor="middle" fill="#000" stroke="#000" stroke-width="1.20" stroke-linejoin="round">L</text>
<text transform="translate(296.6 446.3) rotate(317.51) scale(0.859 1)" font-family="Liberation Sans" font-weight="normal" font-style="normal" font-size="51.0" text-anchor="middle" fill="#000" stroke="#000" stroke-width="1.20" stroke-linejoin="round">Y</text>
<text transform="translate(341.2 409.1) rotate(323.89) scale(0.920 1)" font-family="Liberation Sans" font-weight="normal" font-style="normal" font-size="50.7" text-anchor="middle" fill="#000" stroke="#000" stroke-width="1.20" stroke-linejoin="round">D</text>
<text transform="translate(372.5 387.1) rotate(328.08) scale(0.920 1)" font-family="Liberation Sans" font-weight="normal" font-style="normal" font-size="50.0" text-anchor="middle" fill="#000" stroke="#000" stroke-width="1.20" stroke-linejoin="round">W</text>
<text transform="translate(404.1 368.1) rotate(332.12) scale(0.920 1)" font-family="Liberation Sans" font-weight="normal" font-style="normal" font-size="49.4" text-anchor="middle" fill="#000" stroke="#000" stroke-width="1.20" stroke-linejoin="round">E</text>
<text transform="translate(429.2 355.1) rotate(335.21) scale(0.920 1)" font-family="Liberation Sans" font-weight="normal" font-style="normal" font-size="49.0" text-anchor="middle" fill="#000" stroke="#000" stroke-width="1.20" stroke-linejoin="round">L</text>
<text transform="translate(452.6 344.5) rotate(338.02) scale(0.920 1)" font-family="Liberation Sans" font-weight="normal" font-style="normal" font-size="48.5" text-anchor="middle" fill="#000" stroke="#000" stroke-width="1.20" stroke-linejoin="round">L</text>
<text transform="translate(470.6 337.2) rotate(340.14) scale(0.920 1)" font-family="Liberation Sans" font-weight="normal" font-style="normal" font-size="48.2" text-anchor="middle" fill="#000" stroke="#000" stroke-width="1.20" stroke-linejoin="round">I</text>
<text transform="translate(492.5 329.4) rotate(342.67) scale(0.920 1)" font-family="Liberation Sans" font-weight="normal" font-style="normal" font-size="47.8" text-anchor="middle" fill="#000" stroke="#000" stroke-width="1.20" stroke-linejoin="round">N</text>
<text transform="translate(525.7 319.5) rotate(346.45) scale(0.920 1)" font-family="Liberation Sans" font-weight="normal" font-style="normal" font-size="47.3" text-anchor="middle" fill="#000" stroke="#000" stroke-width="1.20" stroke-linejoin="round">G</text>
<text transform="translate(558.3 312.1) rotate(350.08) scale(0.920 1)" font-family="Liberation Sans" font-weight="normal" font-style="normal" font-size="46.7" text-anchor="middle" fill="#000" stroke="#000" stroke-width="1.20" stroke-linejoin="round">S</text>
<text transform="translate(278.4 579.3) rotate(304.18) scale(0.820 1)" font-family="Liberation Sans" font-weight="bold" font-style="normal" font-size="39.2" text-anchor="middle" fill="#000" stroke="#000" stroke-width="0.60" stroke-linejoin="round">R</text>
<text transform="translate(293.3 558.7) rotate(307.43) scale(0.820 1)" font-family="Liberation Sans" font-weight="bold" font-style="normal" font-size="39.2" text-anchor="middle" fill="#000" stroke="#000" stroke-width="0.60" stroke-linejoin="round">E</text>
<text transform="translate(308.7 539.6) rotate(310.57) scale(0.820 1)" font-family="Liberation Sans" font-weight="bold" font-style="normal" font-size="39.2" text-anchor="middle" fill="#000" stroke="#000" stroke-width="0.60" stroke-linejoin="round">S</text>
<text transform="translate(321.0 525.8) rotate(312.93) scale(0.820 1)" font-family="Liberation Sans" font-weight="bold" font-style="normal" font-size="39.2" text-anchor="middle" fill="#000" stroke="#000" stroke-width="0.60" stroke-linejoin="round">I</text>
<text transform="translate(334.5 512.0) rotate(315.41) scale(0.820 1)" font-family="Liberation Sans" font-weight="bold" font-style="normal" font-size="39.2" text-anchor="middle" fill="#000" stroke="#000" stroke-width="0.60" stroke-linejoin="round">D</text>
<text transform="translate(353.1 494.7) rotate(318.66) scale(0.820 1)" font-family="Liberation Sans" font-weight="bold" font-style="normal" font-size="39.2" text-anchor="middle" fill="#000" stroke="#000" stroke-width="0.60" stroke-linejoin="round">E</text>
<text transform="translate(372.6 478.4) rotate(321.91) scale(0.820 1)" font-family="Liberation Sans" font-weight="bold" font-style="normal" font-size="39.2" text-anchor="middle" fill="#000" stroke="#000" stroke-width="0.60" stroke-linejoin="round">N</text>
<text transform="translate(392.3 463.8) rotate(325.04) scale(0.820 1)" font-family="Liberation Sans" font-weight="bold" font-style="normal" font-size="39.2" text-anchor="middle" fill="#000" stroke="#000" stroke-width="0.60" stroke-linejoin="round">T</text>
<text transform="translate(406.9 454.0) rotate(327.29) scale(0.820 1)" font-family="Liberation Sans" font-weight="bold" font-style="normal" font-size="39.2" text-anchor="middle" fill="#000" stroke="#000" stroke-width="0.60" stroke-linejoin="round">I</text>
<text transform="translate(423.4 443.9) rotate(329.77) scale(0.820 1)" font-family="Liberation Sans" font-weight="bold" font-style="normal" font-size="39.2" text-anchor="middle" fill="#000" stroke="#000" stroke-width="0.60" stroke-linejoin="round">A</text>
<text transform="translate(444.9 432.2) rotate(332.90) scale(0.820 1)" font-family="Liberation Sans" font-weight="bold" font-style="normal" font-size="39.2" text-anchor="middle" fill="#000" stroke="#000" stroke-width="0.60" stroke-linejoin="round">L</text>
<text transform="translate(477.3 417.2) rotate(337.47) scale(0.742 1)" font-family="Liberation Sans" font-weight="bold" font-style="normal" font-size="39.2" text-anchor="middle" fill="#000" stroke="#000" stroke-width="0.60" stroke-linejoin="round">H</text>
<text transform="translate(497.1 409.5) rotate(340.18) scale(0.742 1)" font-family="Liberation Sans" font-weight="bold" font-style="normal" font-size="39.2" text-anchor="middle" fill="#000" stroke="#000" stroke-width="0.60" stroke-linejoin="round">O</text>
<text transform="translate(515.7 403.3) rotate(342.69) scale(0.742 1)" font-family="Liberation Sans" font-weight="bold" font-style="normal" font-size="39.2" text-anchor="middle" fill="#000" stroke="#000" stroke-width="0.60" stroke-linejoin="round">T</text>
<text transform="translate(533.1 398.3) rotate(345.01) scale(0.742 1)" font-family="Liberation Sans" font-weight="bold" font-style="normal" font-size="39.2" text-anchor="middle" fill="#000" stroke="#000" stroke-width="0.60" stroke-linejoin="round">E</text>
<text transform="translate(550.6 393.9) rotate(347.32) scale(0.742 1)" font-family="Liberation Sans" font-weight="bold" font-style="normal" font-size="39.2" text-anchor="middle" fill="#000" stroke="#000" stroke-width="0.60" stroke-linejoin="round">L</text>
<text transform="translate(568.3 390.3) rotate(349.63) scale(0.742 1)" font-family="Liberation Sans" font-weight="bold" font-style="normal" font-size="39.2" text-anchor="middle" fill="#000" stroke="#000" stroke-width="0.60" stroke-linejoin="round">S</text>
<text transform="translate(521.7 1183.2) rotate(200.12) scale(1.220 1)" font-family="Liberation Sans" font-weight="normal" font-style="normal" font-size="52.3" text-anchor="middle" fill="#000" stroke="#000" stroke-width="1.00" stroke-linejoin="round">A</text>
<text transform="translate(484.4 1167.2) rotate(206.36) scale(1.220 1)" font-family="Liberation Sans" font-weight="normal" font-style="normal" font-size="52.3" text-anchor="middle" fill="#000" stroke="#000" stroke-width="1.00" stroke-linejoin="round">P</text>
<text transform="translate(449.0 1147.2) rotate(212.60) scale(1.220 1)" font-family="Liberation Sans" font-weight="normal" font-style="normal" font-size="52.3" text-anchor="middle" fill="#000" stroke="#000" stroke-width="1.00" stroke-linejoin="round">A</text>
<text transform="translate(414.8 1122.5) rotate(219.10) scale(1.220 1)" font-family="Liberation Sans" font-weight="normal" font-style="normal" font-size="52.3" text-anchor="middle" fill="#000" stroke="#000" stroke-width="1.00" stroke-linejoin="round">R</text>
<text transform="translate(384.7 1095.2) rotate(225.33) scale(1.220 1)" font-family="Liberation Sans" font-weight="normal" font-style="normal" font-size="52.3" text-anchor="middle" fill="#000" stroke="#000" stroke-width="1.00" stroke-linejoin="round">T</text>
<text transform="translate(355.7 1062.2) rotate(232.09) scale(1.220 1)" font-family="Liberation Sans" font-weight="normal" font-style="normal" font-size="52.3" text-anchor="middle" fill="#000" stroke="#000" stroke-width="1.00" stroke-linejoin="round">M</text>
<text transform="translate(329.9 1024.5) rotate(239.10) scale(1.220 1)" font-family="Liberation Sans" font-weight="normal" font-style="normal" font-size="52.3" text-anchor="middle" fill="#000" stroke="#000" stroke-width="1.00" stroke-linejoin="round">E</text>
<text transform="translate(310.3 987.1) rotate(245.60) scale(1.220 1)" font-family="Liberation Sans" font-weight="normal" font-style="normal" font-size="52.3" text-anchor="middle" fill="#000" stroke="#000" stroke-width="1.00" stroke-linejoin="round">N</text>
<text transform="translate(295.6 949.3) rotate(251.84) scale(1.220 1)" font-family="Liberation Sans" font-weight="normal" font-style="normal" font-size="52.3" text-anchor="middle" fill="#000" stroke="#000" stroke-width="1.00" stroke-linejoin="round">T</text>
<text transform="translate(278.8 870.1) rotate(264.30) scale(1.067 1)" font-family="Liberation Sans" font-weight="normal" font-style="normal" font-size="52.3" text-anchor="middle" fill="#000" stroke="#000" stroke-width="1.00" stroke-linejoin="round">H</text>
<text transform="translate(277.0 830.2) rotate(270.43) scale(1.067 1)" font-family="Liberation Sans" font-weight="normal" font-style="normal" font-size="52.3" text-anchor="middle" fill="#000" stroke="#000" stroke-width="1.00" stroke-linejoin="round">O</text>
<text transform="translate(279.4 790.3) rotate(276.57) scale(1.067 1)" font-family="Liberation Sans" font-weight="normal" font-style="normal" font-size="52.3" text-anchor="middle" fill="#000" stroke="#000" stroke-width="1.00" stroke-linejoin="round">U</text>
<text transform="translate(285.5 753.9) rotate(282.25) scale(1.067 1)" font-family="Liberation Sans" font-weight="normal" font-style="normal" font-size="52.3" text-anchor="middle" fill="#000" stroke="#000" stroke-width="1.00" stroke-linejoin="round">S</text>
<text transform="translate(294.7 719.6) rotate(287.70) scale(1.067 1)" font-family="Liberation Sans" font-weight="normal" font-style="normal" font-size="52.3" text-anchor="middle" fill="#000" stroke="#000" stroke-width="1.00" stroke-linejoin="round">E</text>
<text transform="translate(307.1 686.3) rotate(293.16) scale(1.067 1)" font-family="Liberation Sans" font-weight="normal" font-style="normal" font-size="52.3" text-anchor="middle" fill="#000" stroke="#000" stroke-width="1.00" stroke-linejoin="round">S</text>
<circle cx="313" cy="661.5" r="2.2" fill="#000"/>
<text transform="translate(335.6 636.1) rotate(302.06) scale(0.729 1)" font-family="Liberation Sans" font-weight="bold" font-style="normal" font-size="52.3" text-anchor="middle" fill="#000" stroke="#000" stroke-width="0.30" stroke-linejoin="round">B</text>
<text transform="translate(350.3 614.3) rotate(306.12) scale(0.729 1)" font-family="Liberation Sans" font-weight="bold" font-style="normal" font-size="52.3" text-anchor="middle" fill="#000" stroke="#000" stroke-width="0.30" stroke-linejoin="round">R</text>
<text transform="translate(361.4 599.9) rotate(308.93) scale(0.729 1)" font-family="Liberation Sans" font-weight="bold" font-style="normal" font-size="52.3" text-anchor="middle" fill="#000" stroke="#000" stroke-width="0.30" stroke-linejoin="round">I</text>
<text transform="translate(373.8 585.3) rotate(311.89) scale(0.729 1)" font-family="Liberation Sans" font-weight="bold" font-style="normal" font-size="52.3" text-anchor="middle" fill="#000" stroke="#000" stroke-width="0.30" stroke-linejoin="round">G</text>
<text transform="translate(392.8 565.7) rotate(316.10) scale(0.729 1)" font-family="Liberation Sans" font-weight="bold" font-style="normal" font-size="52.3" text-anchor="middle" fill="#000" stroke="#000" stroke-width="0.30" stroke-linejoin="round">H</text>
<text transform="translate(410.8 549.4) rotate(319.85) scale(0.729 1)" font-family="Liberation Sans" font-weight="bold" font-style="normal" font-size="52.3" text-anchor="middle" fill="#000" stroke="#000" stroke-width="0.30" stroke-linejoin="round">T</text>
<text transform="translate(433.7 531.6) rotate(324.33) scale(0.612 1)" font-family="Liberation Sans" font-weight="bold" font-style="normal" font-size="52.3" text-anchor="middle" fill="#000" stroke="#000" stroke-width="0.30" stroke-linejoin="round">L</text>
<text transform="translate(444.9 523.9) rotate(326.43) scale(0.612 1)" font-family="Liberation Sans" font-weight="bold" font-style="normal" font-size="52.3" text-anchor="middle" fill="#000" stroke="#000" stroke-width="0.30" stroke-linejoin="round">I</text>
<text transform="translate(458.5 515.2) rotate(328.92) scale(0.612 1)" font-family="Liberation Sans" font-weight="bold" font-style="normal" font-size="52.3" text-anchor="middle" fill="#000" stroke="#000" stroke-width="0.30" stroke-linejoin="round">G</text>
<text transform="translate(478.5 504.0) rotate(332.46) scale(0.612 1)" font-family="Liberation Sans" font-weight="bold" font-style="normal" font-size="52.3" text-anchor="middle" fill="#000" stroke="#000" stroke-width="0.30" stroke-linejoin="round">H</text>
<text transform="translate(496.8 495.1) rotate(335.61) scale(0.612 1)" font-family="Liberation Sans" font-weight="bold" font-style="normal" font-size="52.3" text-anchor="middle" fill="#000" stroke="#000" stroke-width="0.30" stroke-linejoin="round">T</text>
<text transform="translate(532.0 481.3) rotate(341.45) scale(0.560 1)" font-family="Liberation Sans" font-weight="bold" font-style="normal" font-size="52.3" text-anchor="middle" fill="#000" stroke="#000" stroke-width="0.30" stroke-linejoin="round">A</text>
<text transform="translate(551.3 475.4) rotate(344.57) scale(0.560 1)" font-family="Liberation Sans" font-weight="bold" font-style="normal" font-size="52.3" text-anchor="middle" fill="#000" stroke="#000" stroke-width="0.30" stroke-linejoin="round">R</text>
<text transform="translate(570.1 470.7) rotate(347.56) scale(0.560 1)" font-family="Liberation Sans" font-weight="bold" font-style="normal" font-size="52.3" text-anchor="middle" fill="#000" stroke="#000" stroke-width="0.30" stroke-linejoin="round">E</text>
<text transform="translate(589.1 467.0) rotate(350.56) scale(0.560 1)" font-family="Liberation Sans" font-weight="bold" font-style="normal" font-size="52.3" text-anchor="middle" fill="#000" stroke="#000" stroke-width="0.30" stroke-linejoin="round">A</text>
<text transform="translate(315.4 812.6) rotate(273.49) scale(0.820 1)" font-family="Liberation Sans" font-weight="normal" font-style="normal" font-size="30.5" text-anchor="middle" fill="#000" stroke="#000" stroke-width="0.90" stroke-linejoin="round">S</text>
<text transform="translate(316.7 793.0) rotate(276.85) scale(0.820 1)" font-family="Liberation Sans" font-weight="normal" font-style="normal" font-size="30.5" text-anchor="middle" fill="#000" stroke="#000" stroke-width="0.90" stroke-linejoin="round">E</text>
<text transform="translate(319.3 772.8) rotate(280.32) scale(0.820 1)" font-family="Liberation Sans" font-weight="normal" font-style="normal" font-size="30.5" text-anchor="middle" fill="#000" stroke="#000" stroke-width="0.90" stroke-linejoin="round">C</text>
<text transform="translate(323.3 751.4) rotate(284.02) scale(0.820 1)" font-family="Liberation Sans" font-weight="normal" font-style="normal" font-size="30.5" text-anchor="middle" fill="#000" stroke="#000" stroke-width="0.90" stroke-linejoin="round">O</text>
<text transform="translate(328.7 730.4) rotate(287.72) scale(0.820 1)" font-family="Liberation Sans" font-weight="normal" font-style="normal" font-size="30.5" text-anchor="middle" fill="#000" stroke="#000" stroke-width="0.90" stroke-linejoin="round">N</text>
<text transform="translate(335.3 710.3) rotate(291.30) scale(0.820 1)" font-family="Liberation Sans" font-weight="normal" font-style="normal" font-size="30.5" text-anchor="middle" fill="#000" stroke="#000" stroke-width="0.90" stroke-linejoin="round">D</text>
<text transform="translate(345.8 687.9) rotate(295.50) scale(0.820 1)" font-family="Liberation Sans" font-weight="normal" font-style="normal" font-size="30.5" text-anchor="middle" fill="#000" stroke="#000" stroke-width="0.90" stroke-linejoin="round">I</text>
<text transform="translate(352.7 672.9) rotate(298.30) scale(0.820 1)" font-family="Liberation Sans" font-weight="normal" font-style="normal" font-size="30.5" text-anchor="middle" fill="#000" stroke="#000" stroke-width="0.90" stroke-linejoin="round">M</text>
<text transform="translate(363.7 652.4) rotate(302.24) scale(0.820 1)" font-family="Liberation Sans" font-weight="normal" font-style="normal" font-size="30.5" text-anchor="middle" fill="#000" stroke="#000" stroke-width="0.90" stroke-linejoin="round">M</text>
<text transform="translate(372.3 638.3) rotate(305.04) scale(0.820 1)" font-family="Liberation Sans" font-weight="normal" font-style="normal" font-size="30.5" text-anchor="middle" fill="#000" stroke="#000" stroke-width="0.90" stroke-linejoin="round">I</text>
<text transform="translate(381.3 625.1) rotate(307.73) scale(0.820 1)" font-family="Liberation Sans" font-weight="normal" font-style="normal" font-size="30.5" text-anchor="middle" fill="#000" stroke="#000" stroke-width="0.90" stroke-linejoin="round">G</text>
<text transform="translate(394.3 608.1) rotate(311.33) scale(0.820 1)" font-family="Liberation Sans" font-weight="normal" font-style="normal" font-size="30.5" text-anchor="middle" fill="#000" stroke="#000" stroke-width="0.90" stroke-linejoin="round">R</text>
<text transform="translate(407.4 592.9) rotate(314.71) scale(0.820 1)" font-family="Liberation Sans" font-weight="normal" font-style="normal" font-size="30.5" text-anchor="middle" fill="#000" stroke="#000" stroke-width="0.90" stroke-linejoin="round">A</text>
<text transform="translate(421.5 578.5) rotate(318.08) scale(0.820 1)" font-family="Liberation Sans" font-weight="normal" font-style="normal" font-size="30.5" text-anchor="middle" fill="#000" stroke="#000" stroke-width="0.90" stroke-linejoin="round">N</text>
<text transform="translate(435.9 565.4) rotate(321.34) scale(0.820 1)" font-family="Liberation Sans" font-weight="normal" font-style="normal" font-size="30.5" text-anchor="middle" fill="#000" stroke="#000" stroke-width="0.90" stroke-linejoin="round">T</text>
<text transform="translate(349.9 771.3) rotate(281.62) scale(0.820 1)" font-family="Liberation Sans" font-weight="normal" font-style="normal" font-size="31.3" text-anchor="middle" fill="#000" stroke="#000" stroke-width="0.90" stroke-linejoin="round">S</text>
<text transform="translate(354.2 749.4) rotate(285.79) scale(0.820 1)" font-family="Liberation Sans" font-weight="normal" font-style="normal" font-size="31.3" text-anchor="middle" fill="#000" stroke="#000" stroke-width="0.90" stroke-linejoin="round">E</text>
<text transform="translate(359.9 728.4) rotate(289.83) scale(0.820 1)" font-family="Liberation Sans" font-weight="normal" font-style="normal" font-size="31.3" text-anchor="middle" fill="#000" stroke="#000" stroke-width="0.90" stroke-linejoin="round">T</text>
<text transform="translate(366.8 708.5) rotate(293.74) scale(0.820 1)" font-family="Liberation Sans" font-weight="normal" font-style="normal" font-size="31.3" text-anchor="middle" fill="#000" stroke="#000" stroke-width="0.90" stroke-linejoin="round">T</text>
<text transform="translate(374.8 689.6) rotate(297.53) scale(0.820 1)" font-family="Liberation Sans" font-weight="normal" font-style="normal" font-size="31.3" text-anchor="middle" fill="#000" stroke="#000" stroke-width="0.90" stroke-linejoin="round">L</text>
<text transform="translate(384.4 670.6) rotate(301.44) scale(0.820 1)" font-family="Liberation Sans" font-weight="normal" font-style="normal" font-size="31.3" text-anchor="middle" fill="#000" stroke="#000" stroke-width="0.90" stroke-linejoin="round">E</text>
<text transform="translate(397.2 649.4) rotate(305.99) scale(0.820 1)" font-family="Liberation Sans" font-weight="normal" font-style="normal" font-size="31.3" text-anchor="middle" fill="#000" stroke="#000" stroke-width="0.90" stroke-linejoin="round">M</text>
<text transform="translate(411.7 629.2) rotate(310.54) scale(0.820 1)" font-family="Liberation Sans" font-weight="normal" font-style="normal" font-size="31.3" text-anchor="middle" fill="#000" stroke="#000" stroke-width="0.90" stroke-linejoin="round">E</text>
<text transform="translate(426.9 611.2) rotate(314.83) scale(0.820 1)" font-family="Liberation Sans" font-weight="normal" font-style="normal" font-size="31.3" text-anchor="middle" fill="#000" stroke="#000" stroke-width="0.90" stroke-linejoin="round">N</text>
<text transform="translate(442.9 594.8) rotate(319.00) scale(0.820 1)" font-family="Liberation Sans" font-weight="normal" font-style="normal" font-size="31.3" text-anchor="middle" fill="#000" stroke="#000" stroke-width="0.90" stroke-linejoin="round">T</text>
<text transform="translate(367.6 876.0) rotate(-2.20) translate(-80.3 11.7) scale(0.630 1)" font-family="Liberation Sans" font-weight="normal" font-style="normal" font-size="33.78" fill="#000" stroke="#000" stroke-width="1.30" stroke-linejoin="round">DEUTSCHLAND</text>
<text transform="translate(517.3 867.2) rotate(-1.50) translate(-48.2 9.7) scale(0.823 1)" font-family="Liberation Sans" font-weight="normal" font-style="normal" font-size="28.23" fill="#000" stroke="#000" stroke-width="1.30" stroke-linejoin="round">GHETTO</text>
<text transform="translate(767.3 781.2) rotate(0.00) translate(-47.3 14.1) scale(0.835 1)" font-family="Liberation Sans" font-weight="normal" font-style="normal" font-size="40.99" fill="#000" stroke="#000" stroke-width="0.50" stroke-linejoin="round">ZONE</text>
<text transform="translate(771.2 817.5) rotate(0.00) translate(-19.2 12.5) scale(1.047 1)" font-family="Liberation Sans" font-weight="normal" font-style="normal" font-size="36.23" fill="#000" stroke="#000" stroke-width="0.50" stroke-linejoin="round">IN</text>
<text transform="translate(782.6 863.2) rotate(0.00) translate(-60.5 10.1) scale(0.543 1)" font-family="Liberation Sans" font-weight="normal" font-style="normal" font-size="35.54" fill="#000" stroke="#000" stroke-width="1.00" stroke-linejoin="round">TRANSITION,</text>
<text transform="translate(923.3 758.8) rotate(-2.00) translate(-71.7 12.9) scale(0.756 1)" font-family="Liberation Sans" font-weight="normal" font-style="normal" font-size="37.42" fill="#000" stroke="#000" stroke-width="0.70" stroke-linejoin="round" letter-spacing="3.97">ZONE OF</text>
<text transform="translate(932.3 787.8) rotate(-3.00) translate(-81.3 11.2) scale(0.566 1)" font-family="Liberation Sans" font-weight="normal" font-style="normal" font-size="32.58" fill="#000" stroke="#000" stroke-width="0.70" stroke-linejoin="round" letter-spacing="2.65">WORKINGMEN'S</text>
<text transform="translate(936.2 818.5) rotate(0.00) translate(-46.5 12.1) scale(0.622 1)" font-family="Liberation Sans" font-weight="normal" font-style="normal" font-size="35.21" fill="#000" stroke="#000" stroke-width="0.70" stroke-linejoin="round" letter-spacing="4.83">HOMES</text>
<text transform="translate(1106.2 915.5) rotate(-2.00) translate(-89.2 12.1) scale(0.662 1)" font-family="Liberation Sans" font-weight="normal" font-style="normal" font-size="35.09" fill="#000" stroke="#000" stroke-width="0.70" stroke-linejoin="round" letter-spacing="3.78">RESIDENTIAL</text>
<text transform="translate(1100.0 947.5) rotate(0.00) translate(-40.8 11.2) scale(0.793 1)" font-family="Liberation Sans" font-weight="normal" font-style="normal" font-size="32.39" fill="#000" stroke="#000" stroke-width="0.70" stroke-linejoin="round" letter-spacing="4.41">ZONE</text>
<text transform="translate(1178.0 1201.0) rotate(-5.00) translate(-78.5 10.0) scale(0.724 1)" font-family="Liberation Sans" font-weight="normal" font-style="normal" font-size="28.87" fill="#000" stroke="#000" stroke-width="0.80" stroke-linejoin="round" letter-spacing="3.45">COMMUTERS</text>
<text transform="translate(1169.0 1224.5) rotate(-4.00) translate(-41.3 10.4) scale(0.861 1)" font-family="Liberation Sans" font-weight="normal" font-style="normal" font-size="30.28" fill="#000" stroke="#000" stroke-width="0.80" stroke-linejoin="round" letter-spacing="4.07">ZONE</text>
<text transform="translate(631.5 817.5) rotate(0.00) translate(-47.5 10.0) scale(0.863 1)" font-family="Liberation Sans" font-weight="normal" font-style="italic" font-size="39.33" fill="#000" stroke="#000" stroke-width="1.80" stroke-linejoin="round">LOQP</text>
<text transform="translate(421.0 1009.5) rotate(-1.50) translate(-75.7 8.7) scale(0.915 1)" font-family="Liberation Sans" font-weight="normal" font-style="normal" font-size="25.35" fill="#000" stroke="#000" stroke-width="1.20" stroke-linejoin="round" letter-spacing="3.28">'TWO FLAT'</text>
<text transform="translate(420.2 1029.9) rotate(0.00) translate(-31.2 8.9) scale(0.784 1)" font-family="Liberation Sans" font-weight="normal" font-style="normal" font-size="25.80" fill="#000" stroke="#000" stroke-width="1.20" stroke-linejoin="round" letter-spacing="3.19">AREA</text>
<text transform="translate(542.5 941.0) rotate(0.00) translate(-26.3 6.8) scale(0.849 1)" font-family="Liberation Sans" font-weight="bold" font-style="italic" font-size="19.72" fill="#000">CHINA</text>
<text transform="translate(541.5 956.5) rotate(0.00) translate(-22.5 6.3) scale(0.787 1)" font-family="Liberation Sans" font-weight="bold" font-style="italic" font-size="18.31" fill="#000">TOWN</text>
<path d="M563 958 L582 952 M576 951 L582 952 L579 957" fill="none" stroke="#000" stroke-width="2"/>
<text transform="translate(583.5 1228.8) rotate(1.00) translate(-48.1 11.6) scale(0.668 1)" font-family="Liberation Sans" font-weight="normal" font-style="normal" font-size="33.64" fill="#000" stroke="#000" stroke-width="1.40" stroke-linejoin="round" letter-spacing="2.99">BRIGHT</text>
<text transform="translate(678.7 1228.5) rotate(-1.00) translate(-35.5 10.6) scale(0.704 1)" font-family="Liberation Sans" font-weight="normal" font-style="normal" font-size="30.74" fill="#000" stroke="#000" stroke-width="1.40" stroke-linejoin="round" letter-spacing="2.13">LIGHT</text>
<text transform="translate(609.2 1254.8) rotate(0.00) translate(-42.8 10.2) scale(0.874 1)" font-family="Liberation Sans" font-weight="normal" font-style="normal" font-size="29.71" fill="#000" stroke="#000" stroke-width="1.40" stroke-linejoin="round" letter-spacing="5.72">AREA</text>
<text transform="translate(655.8 1328.0) rotate(-3.50) translate(-77.0 9.2) scale(0.798 1)" font-family="Liberation Sans" font-weight="normal" font-style="normal" font-size="26.53" fill="#000" stroke="#000" stroke-width="0.80" stroke-linejoin="round" letter-spacing="2.50">RESTRICTED</text>
<text transform="translate(600.4 1349.5) rotate(2.40) translate(-78.9 9.0) scale(0.770 1)" font-family="Liberation Sans" font-weight="normal" font-style="normal" font-size="26.12" fill="#000" stroke="#000" stroke-width="0.80" stroke-linejoin="round" letter-spacing="3.25">RESIDENTIAL</text>
<text transform="translate(742.5 1337.2) rotate(-14.70) translate(-49.6 7.6) scale(0.829 1)" font-family="Liberation Sans" font-weight="normal" font-style="normal" font-size="21.97" fill="#000" stroke="#000" stroke-width="0.80" stroke-linejoin="round" letter-spacing="2.41">DISTRICT</text>
<text transform="translate(760.5 1404.5) rotate(-12.00) translate(-69.1 7.4) scale(0.974 1)" font-family="Liberation Sans" font-weight="normal" font-style="normal" font-size="21.57" fill="#000" stroke="#000" stroke-width="0.80" stroke-linejoin="round" letter-spacing="2.05">BUNGALOW</text>
<text transform="translate(775.2 1424.0) rotate(-12.00) translate(-53.9 8.9) scale(0.814 1)" font-family="Liberation Sans" font-weight="normal" font-style="normal" font-size="25.86" fill="#000" stroke="#000" stroke-width="0.80" stroke-linejoin="round" letter-spacing="3.07">SECTION</text>
<text transform="translate(788.8 1265.8) rotate(63.00) translate(-113.5 6.5) scale(1.033 1)" font-family="Liberation Sans" font-weight="normal" font-style="normal" font-size="18.77" fill="#000" stroke="#000" stroke-width="0.80" stroke-linejoin="round" letter-spacing="0.97">RESIDENTIAL HOTELS</text>
<text transform="translate(505.4 741.0) rotate(302.38) scale(0.800 1)" font-family="Liberation Sans" font-weight="bold" font-style="normal" font-size="29.1" text-anchor="middle" fill="#000" stroke="#000" stroke-width="0.20" stroke-linejoin="round">L</text>
<text transform="translate(513.3 729.6) rotate(307.02) scale(0.800 1)" font-family="Liberation Sans" font-weight="bold" font-style="normal" font-size="29.1" text-anchor="middle" fill="#000" stroke="#000" stroke-width="0.20" stroke-linejoin="round">I</text>
<text transform="translate(522.0 719.0) rotate(311.67) scale(0.800 1)" font-family="Liberation Sans" font-weight="bold" font-style="normal" font-size="29.1" text-anchor="middle" fill="#000" stroke="#000" stroke-width="0.20" stroke-linejoin="round">T</text>
<text transform="translate(534.2 706.6) rotate(317.54) scale(0.800 1)" font-family="Liberation Sans" font-weight="bold" font-style="normal" font-size="29.1" text-anchor="middle" fill="#000" stroke="#000" stroke-width="0.20" stroke-linejoin="round">T</text>
<text transform="translate(547.7 695.5) rotate(323.42) scale(0.800 1)" font-family="Liberation Sans" font-weight="bold" font-style="normal" font-size="29.1" text-anchor="middle" fill="#000" stroke="#000" stroke-width="0.20" stroke-linejoin="round">L</text>
<text transform="translate(562.7 685.5) rotate(329.51) scale(0.800 1)" font-family="Liberation Sans" font-weight="bold" font-style="normal" font-size="29.1" text-anchor="middle" fill="#000" stroke="#000" stroke-width="0.20" stroke-linejoin="round">E</text>
<text transform="translate(522.1 752.0) rotate(302.21) scale(0.850 1)" font-family="Liberation Sans" font-weight="normal" font-style="normal" font-size="26.2" text-anchor="middle" fill="#000" stroke="#000" stroke-width="0.70" stroke-linejoin="round">S</text>
<text transform="translate(529.3 741.6) rotate(307.05) scale(0.850 1)" font-family="Liberation Sans" font-weight="normal" font-style="normal" font-size="26.2" text-anchor="middle" fill="#000" stroke="#000" stroke-width="0.70" stroke-linejoin="round">I</text>
<text transform="translate(537.7 731.4) rotate(312.10) scale(0.850 1)" font-family="Liberation Sans" font-weight="normal" font-style="normal" font-size="26.2" text-anchor="middle" fill="#000" stroke="#000" stroke-width="0.70" stroke-linejoin="round">C</text>
<text transform="translate(547.0 722.0) rotate(317.16) scale(0.850 1)" font-family="Liberation Sans" font-weight="normal" font-style="normal" font-size="26.2" text-anchor="middle" fill="#000" stroke="#000" stroke-width="0.70" stroke-linejoin="round">I</text>
<text transform="translate(555.7 714.5) rotate(321.55) scale(0.850 1)" font-family="Liberation Sans" font-weight="normal" font-style="normal" font-size="26.2" text-anchor="middle" fill="#000" stroke="#000" stroke-width="0.70" stroke-linejoin="round">L</text>
<text transform="translate(568.4 705.5) rotate(327.50) scale(0.850 1)" font-family="Liberation Sans" font-weight="normal" font-style="normal" font-size="26.2" text-anchor="middle" fill="#000" stroke="#000" stroke-width="0.70" stroke-linejoin="round">Y</text>
<text transform="translate(572.5 664.5) rotate(0.00) translate(-10.2 10.2) scale(0.944 1)" font-family="Liberation Sans" font-weight="bold" font-style="normal" font-size="30.00" fill="#000">U</text>
<text transform="translate(575.1 685.3) rotate(0.00) translate(-6.8 7.7) scale(0.851 1)" font-family="Liberation Sans" font-weight="bold" font-style="normal" font-size="22.32" fill="#000">N</text>
<text transform="translate(577.0 702.0) rotate(0.00) translate(-6.1 6.0) scale(0.935 1)" font-family="Liberation Sans" font-weight="bold" font-style="normal" font-size="17.39" fill="#000">D</text>
<text transform="translate(579.0 717.5) rotate(0.00) translate(-6.2 6.5) scale(0.939 1)" font-family="Liberation Sans" font-weight="bold" font-style="normal" font-size="18.84" fill="#000">E</text>
<text transform="translate(585.0 735.5) rotate(0.00) translate(-8.4 7.5) scale(1.014 1)" font-family="Liberation Sans" font-weight="bold" font-style="normal" font-size="21.74" fill="#000">R</text>
<text transform="translate(594.7 654.3) rotate(0.00) translate(-7.0 9.3) scale(0.550 1)" font-family="Liberation Sans" font-weight="bold" font-style="normal" font-size="26.96" fill="#000">W</text>
<text transform="translate(594.8 677.6) rotate(0.00) translate(-4.7 6.8) scale(0.620 1)" font-family="Liberation Sans" font-weight="bold" font-style="normal" font-size="19.72" fill="#000">O</text>
<text transform="translate(597.5 699.2) rotate(0.00) translate(-8.4 6.2) scale(1.217 1)" font-family="Liberation Sans" font-weight="bold" font-style="normal" font-size="18.12" fill="#000">R</text>
<text transform="translate(597.5 716.5) rotate(0.00) translate(-6.9 5.5) scale(1.340 1)" font-family="Liberation Sans" font-weight="bold" font-style="normal" font-size="15.94" fill="#000">L</text>
<text transform="translate(601.0 733.5) rotate(0.00) translate(-7.6 7.0) scale(1.010 1)" font-family="Liberation Sans" font-weight="bold" font-style="normal" font-size="20.29" fill="#000">D</text>
<text transform="translate(617.0 645.5) rotate(0.00) translate(-4.2 19.0) scale(1.365 1)" font-family="Liberation Sans" font-weight="normal" font-style="normal" font-size="32.56" fill="#000" stroke="#000" stroke-width="0.70" stroke-linejoin="round">'</text>
<text transform="translate(627.5 652.9) rotate(0.00) translate(-9.5 7.9) scale(1.101 1)" font-family="Liberation Sans" font-weight="normal" font-style="normal" font-size="22.90" fill="#000" stroke="#000" stroke-width="0.70" stroke-linejoin="round">R</text>
<text transform="translate(625.5 671.0) rotate(0.00) translate(-6.2 4.9) scale(1.140 1)" font-family="Liberation Sans" font-weight="normal" font-style="normal" font-size="14.08" fill="#000" stroke="#000" stroke-width="0.70" stroke-linejoin="round">O</text>
<text transform="translate(625.5 684.0) rotate(0.00) translate(-6.2 4.9) scale(1.140 1)" font-family="Liberation Sans" font-weight="normal" font-style="normal" font-size="14.08" fill="#000" stroke="#000" stroke-width="0.70" stroke-linejoin="round">O</text>
<text transform="translate(626.2 697.8) rotate(0.00) translate(-7.7 6.2) scale(1.030 1)" font-family="Liberation Sans" font-weight="normal" font-style="normal" font-size="18.12" fill="#000" stroke="#000" stroke-width="0.70" stroke-linejoin="round">M</text>
<text transform="translate(628.2 717.2) rotate(0.00) translate(-5.5 4.8) scale(1.133 1)" font-family="Liberation Sans" font-weight="normal" font-style="normal" font-size="13.77" fill="#000" stroke="#000" stroke-width="0.70" stroke-linejoin="round">E</text>
<text transform="translate(631.8 732.9) rotate(0.00) translate(-9.8 4.9) scale(1.853 1)" font-family="Liberation Sans" font-weight="normal" font-style="normal" font-size="14.06" fill="#000" stroke="#000" stroke-width="0.70" stroke-linejoin="round">R</text>
<text transform="translate(632.5 746.8) rotate(0.00) translate(-8.1 6.1) scale(1.383 1)" font-family="Liberation Sans" font-weight="normal" font-style="normal" font-size="17.61" fill="#000" stroke="#000" stroke-width="0.70" stroke-linejoin="round">S</text>
<text transform="translate(643.0 750.5) rotate(0.00) translate(-5.8 2.5) scale(0.884 1)" font-family="Liberation Sans" font-weight="normal" font-style="normal" font-size="47.62" fill="#000" stroke="#000" stroke-width="0.70" stroke-linejoin="round">.</text>
<text transform="translate(615.4 906.1) rotate(201.90) scale(1.000 1)" font-family="Liberation Sans" font-weight="normal" font-style="normal" font-size="62.5" text-anchor="middle" fill="#000" stroke="#000" stroke-width="2.20" stroke-linejoin="round">S</text>
<text transform="translate(589.2 886.4) rotate(225.20) scale(1.000 1)" font-family="Liberation Sans" font-weight="normal" font-style="normal" font-size="62.5" text-anchor="middle" fill="#000" stroke="#000" stroke-width="2.20" stroke-linejoin="round">L</text>
<text transform="translate(564.0 827.3) rotate(271.90) scale(1.000 1)" font-family="Liberation Sans" font-weight="normal" font-style="normal" font-size="62.5" text-anchor="middle" fill="#000" stroke="#000" stroke-width="2.20" stroke-linejoin="round">U</text>
<text transform="translate(574.2 790.4) rotate(298.90) scale(1.000 1)" font-family="Liberation Sans" font-weight="normal" font-style="normal" font-size="62.5" text-anchor="middle" fill="#000" stroke="#000" stroke-width="2.20" stroke-linejoin="round">M</text>
<path d="M590.8 954.0 L570.3 993.1 L598.7 971.7 M582.8 999.2 L598.7 987.5 M626.2 958.6 L638.3 952.1 M626.2 971.7 L642.0 961.9 M626.2 992.2 L634.6 984.7 L645.7 981.5 L655.0 985.7 L656.9 994.0 L649.5 1003.4 M598.2 1005.2 L590.8 1009.0 L587.0 1016.4 L589.8 1023.9 L598.2 1026.7 M626.2 1023.0 L658.8 1007.1 L663.5 1017.4 M642.0 1016.4 L649.5 1027.6 M628.0 1028.5 L648.5 1048.1" fill="none" stroke="#000" stroke-width="6.0" stroke-linecap="round" stroke-linejoin="round"/>
<path d="M740.3 730.3 L764.0 730.3 L764.0 735.6 L740.3 735.6 Z" fill="#000"/>
<path d="M740.3 748.7 L762.5 748.7 L762.5 754.0 L740.3 754.0 Z" fill="#000"/>
<path d="M745.0 733.0 L750.5 733.0 L750.5 751.0 L745.0 751.0 Z" fill="#000"/>
<path d="M755.3 733.0 L761.3 733.0 L761.3 751.0 L755.3 751.0 Z" fill="#000"/>
<path d="M878.3 706.0 L906.4 706.0 L906.4 712.0 L878.3 712.0 Z" fill="#000"/>
<path d="M878.3 729.5 L903.4 729.5 L903.4 735.4 L878.3 735.4 Z" fill="#000"/>
<path d="M879.1 709.0 L884.1 709.0 L884.1 732.0 L879.1 732.0 Z" fill="#000"/>
<path d="M886.5 709.0 L891.0 709.0 L891.0 732.0 L886.5 732.0 Z" fill="#000"/>
<path d="M895.2 709.0 L899.8 709.0 L899.8 732.0 L895.2 732.0 Z" fill="#000"/>
<path d="M1067.4 851.0 L1106.6 851.0 L1106.6 856.5 L1067.4 856.5 Z" fill="#000"/>
<path d="M1064.7 883.0 L1099.5 883.0 L1099.5 888.2 L1064.7 888.2 Z" fill="#000"/>
<path d="M1069.5 853.0 L1074.1 853.0 L1074.1 885.0 L1069.5 885.0 Z" fill="#000"/>
<path d="M1077.5 854.0 L1083.5 854.0 L1091.0 884.0 L1087.0 884.0 Z" fill="#000"/>
<path d="M1101.0 856.0 L1090.5 884.0" fill="none" stroke="#000" stroke-width="4.2" stroke-linecap="round" stroke-linejoin="round"/>
<path d="M1144.0 1146.4 L1171.0 1146.4 L1171.0 1151.5 L1144.0 1151.5 Z" fill="#000"/>
<path d="M1150.0 1173.5 L1166.0 1173.5 L1166.0 1178.4 L1150.0 1178.4 Z" fill="#000"/>
<path d="M1147.5 1149.0 L1154.0 1149.0 L1159.0 1176.0 L1156.0 1176.0 Z" fill="#000"/>
<path d="M1167.5 1150.0 L1158.0 1176.0" fill="none" stroke="#000" stroke-width="3.6" stroke-linecap="round" stroke-linejoin="round"/>
<path d="M641.5 769.5 L653.3 769.5 L653.3 773.2 L641.5 773.2 Z" fill="#000"/>
<path d="M641.0 793.0 L654.0 793.0 L654.0 796.8 L641.0 796.8 Z" fill="#000"/>
<path d="M644.9 771.0 L650.1 771.0 L650.1 795.0 L644.9 795.0 Z" fill="#000"/>
<text transform="translate(608.4 1161.5) rotate(-90.00) translate(-43.0 9.1) scale(0.908 1)" font-family="Liberation Sans" font-weight="bold" font-style="italic" font-size="26.48" fill="#fff">BLACK</text>
<text transform="translate(610.1 1065.0) rotate(-90.00) translate(-37.6 9.4) scale(1.051 1)" font-family="Liberation Sans" font-weight="bold" font-style="italic" font-size="27.25" fill="#fff">BELT</text>
</svg></body></html>
